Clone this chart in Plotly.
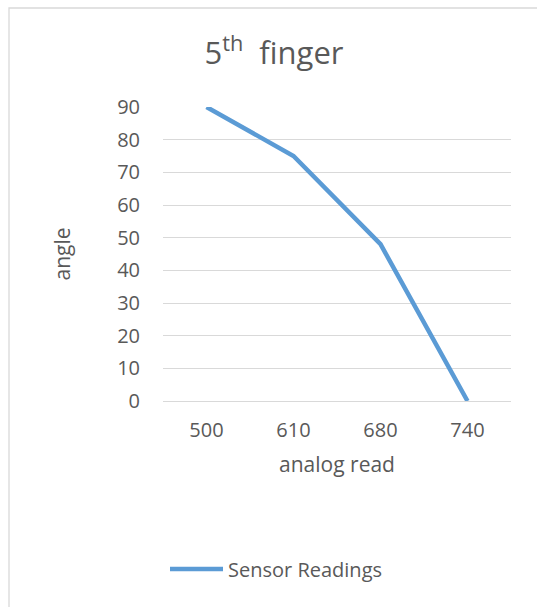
import plotly.graph_objects as go

# Sensor calibration for the fifth finger
analog_read = ["500", "610", "680", "740"]
angle = [90, 75, 48, 0]
y_ticks = [0, 10, 20, 30, 40, 50, 60, 70, 80, 90]
series_name = "Sensor Readings"

TEXT = "#595959"
GRID = "#d9d9d9"
LINE = "#5b9bd5"
FONT = "Open Sans"

# plot area in pixels
W, H = 537, 607
L, R, T, B = 163, 26, 107, 206
pw, ph = W - L - R, H - T - B


def px_x(x):
    return (x - L) / pw


def px_y(y):
    return (H - B - y) / ph


fig = go.Figure()
fig.add_trace(go.Scatter(
    x=analog_read, y=angle, mode="lines", name=series_name,
    line=dict(color=LINE, width=4.5), showlegend=False,
))

# legend drawn below the axes: a wide line sample followed by the series name
LEG_Y = 569
legend_shapes = [dict(
    type="line", xref="paper", yref="paper",
    x0=px_x(170), x1=px_x(223), y0=px_y(LEG_Y), y1=px_y(LEG_Y),
    line=dict(color=LINE, width=4.5),
)]
legend_notes = [dict(
    text=series_name, xref="paper", yref="paper",
    x=px_x(226), y=px_y(LEG_Y), xanchor="left", yanchor="middle",
    showarrow=False, font=dict(family=FONT, size=20, color=TEXT),
)]

border = dict(
    type="rect", xref="paper", yref="paper",
    x0=px_x(9), x1=px_x(560), y0=px_y(8), y1=px_y(640),
    line=dict(color=GRID, width=1.3), fillcolor="rgba(0,0,0,0)",
    layer="below",
)

fig.update_layout(
    width=W, height=H,
    margin=dict(l=L, r=R, t=T, b=B),
    paper_bgcolor="white", plot_bgcolor="white",
    font=dict(family=FONT, color=TEXT, size=20),
    title=dict(
        text="5<sup>th</sup> &nbsp;finger",
        x=px_x(274), xanchor="center", xref="paper",
        y=1 - 53 / H, yanchor="middle",
        font=dict(family=FONT, size=31, color=TEXT),
    ),
    showlegend=False,
    xaxis=dict(
        type="category", range=[-0.5, 3.5],
        showgrid=False, zeroline=False, showline=False,
        ticks="", ticklabelstandoff=15,
        tickfont=dict(family=FONT, size=20, color=TEXT),
        title=dict(text="analog read", standoff=15,
                   font=dict(family=FONT, size=21, color=TEXT)),
    ),
    yaxis=dict(
        range=[0, 90], tickvals=y_ticks,
        showgrid=True, gridcolor=GRID, gridwidth=1.3,
        zeroline=True, zerolinecolor=GRID, zerolinewidth=1.3,
        showline=False, ticks="", ticklabelstandoff=22,
        tickfont=dict(family=FONT, size=20, color=TEXT),
        title=dict(text="angle", standoff=40,
                   font=dict(family=FONT, size=21, color=TEXT)),
    ),
    shapes=[border] + legend_shapes,
    annotations=legend_notes,
)

fig.write_html("out.html")
